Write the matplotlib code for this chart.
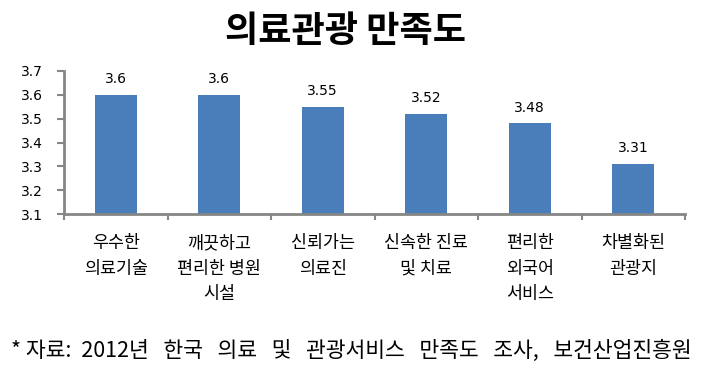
import numpy as np
import matplotlib
matplotlib.use('Agg')
import matplotlib.pyplot as plt

plt.rcParams['font.family'] = ['Noto Sans CJK KR', 'DejaVu Sans']

# data
categories = ['우수한\n의료기술', '깨끗하고\n편리한 병원\n시설', '신뢰가는\n의료진',
              '신속한 진료\n및 치료', '편리한\n외국어\n서비스', '차별화된\n관광지']
scores = [3.6, 3.6, 3.55, 3.52, 3.48, 3.31]
value_labels = ['3.6', '3.6', '3.55', '3.52', '3.48', '3.31']
yticks = [3.1, 3.2, 3.3, 3.4, 3.5, 3.6, 3.7]

fig = plt.figure(figsize=(7.2, 3.75), dpi=100)
ax = fig.add_axes([64 / 720, 1 - 214 / 375, 621 / 720, 143 / 375])

x = np.arange(len(categories))
ax.bar(x, scores, width=0.41, color='#4A7EBB', zorder=2)

for xi, v, lab in zip(x, scores, value_labels):
    ax.text(xi, v + 0.065, lab, ha='center', va='center', fontsize=10,
            family='DejaVu Sans', color='black')

ax.set_ylim(3.1, 3.7)
ax.set_xlim(-0.5, len(categories) - 0.5)
ax.set_yticks(yticks)
ax.set_yticklabels([f'{t:.1f}' for t in yticks], family='DejaVu Sans', fontsize=10)

# category ticks at boundaries, labels centered
ax.set_xticks(np.arange(len(categories) + 1) - 0.5)
ax.set_xticklabels([])
ax.tick_params(axis='x', direction='out', length=4, width=1.5, color='#868686')
ax.tick_params(axis='y', direction='out', length=5, width=1.5, color='#868686', pad=10)

for xi, c in zip(x, categories):
    ax.text(xi, -0.14, c, transform=ax.get_xaxis_transform(), ha='center', va='top',
            fontsize=12.5, linespacing=1.55)

for s in ['top', 'right']:
    ax.spines[s].set_visible(False)
for s in ['left', 'bottom']:
    ax.spines[s].set_color('#868686')
    ax.spines[s].set_linewidth(2)

fig.text(0.48, 0.915, '의료관광 만족도', ha='center', va='center', fontsize=26,
         fontweight='bold')
fig.text(0.015, 0.065,
         '* 자료:  2012년   한국   의료   및   관광서비스   만족도   조사,   보건산업진흥원',
         ha='left', va='center', fontsize=15.5)

fig.savefig('out.png', dpi=100)
